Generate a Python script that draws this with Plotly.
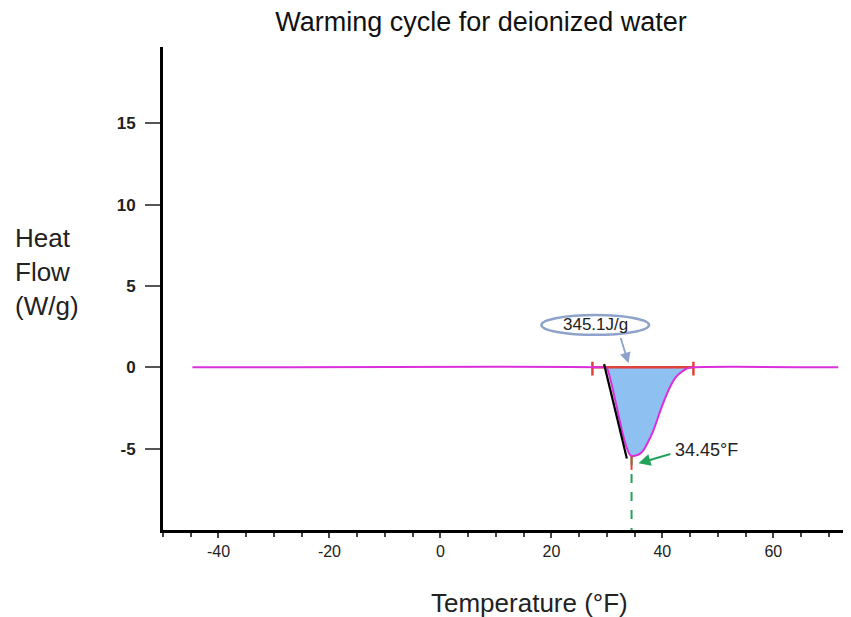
import plotly.graph_objects as go

# ---- data ----
temp = [-44.7, 29.5, 30.0, 31.5, 32.7, 33.6, 34.1, 34.45, 35.2, 36.0, 36.6, 37.4, 38.4,
        39.9, 41.4, 42.3, 43.2, 44.4, 45.3, 71.7]
heat_flow = [0.0, 0.0, -0.04, -2.0, -3.86, -4.96, -5.35, -5.45, -5.42, -5.3, -5.09, -4.6, -3.87,
             -2.42, -1.19, -0.66, -0.35, -0.07, 0.0, 0.0]

peak_temp = 34.45
peak_flow = -5.45
enthalpy_label = "345.1J/g"
peak_label = "34.45°F"

tangent_x = [29.5, 33.6]
tangent_y = [0.2, -5.6]

integ_x = [27.4, 45.6]
integ_y = [0.0, 0.0]

x_ticks = [-40, -20, 0, 20, 40, 60]
x_tick_labels = ["-40", "-20", "0", "20", "40", "60"]
y_ticks = [-5, 0, 5, 10, 15]
y_tick_labels = ["-5", "0", "5", "10", "15"]

FONT = "Liberation Sans, Arial, sans-serif"
MAGENTA = "#dc2fdc"
RED = "#e0413a"
GREEN = "#22a35a"
ELLIPSE = "#8ea3cc"

# page body has an 8px margin, so the figure is sized to fit inside the window
W, H = 843, 609

fig = go.Figure()

# filled peak area (between curve and the integration baseline)
px_fill = [t for t, h in zip(temp, heat_flow) if 30.0 <= t <= 45.3]
py_fill = [h for t, h in zip(temp, heat_flow) if 30.0 <= t <= 45.3]
fig.add_trace(go.Scatter(x=px_fill, y=py_fill, mode="lines", fill="toself",
                         fillcolor="#8ec0f2", line=dict(width=0), hoverinfo="skip"))

# integration baseline with end ticks
fig.add_trace(go.Scatter(x=integ_x, y=integ_y, mode="lines",
                         line=dict(color=RED, width=2.5)))
for xv in integ_x:
    fig.add_trace(go.Scatter(x=[xv, xv], y=[0.35, -0.5], mode="lines",
                             line=dict(color=RED, width=2.5)))

# green dashed drop line from the peak
fig.add_trace(go.Scatter(x=[peak_temp, peak_temp], y=[peak_flow, -10], mode="lines",
                         line=dict(color=GREEN, width=2, dash="dash")))

# main heat flow curve
fig.add_trace(go.Scatter(x=temp, y=heat_flow, mode="lines",
                         line=dict(color=MAGENTA, width=2, shape="spline", smoothing=0.6)))

# onset tangent
fig.add_trace(go.Scatter(x=tangent_x, y=tangent_y, mode="lines",
                         line=dict(color="black", width=2.2)))

# red peak marker
fig.add_trace(go.Scatter(x=[peak_temp, peak_temp], y=[peak_flow, peak_flow - 0.85], mode="lines",
                         line=dict(color=RED, width=2)))

# ellipse around enthalpy label
fig.add_shape(type="circle", xref="x", yref="y", x0=18.2, x1=37.6, y0=2.0, y1=3.22,
              line=dict(color=ELLIPSE, width=2.5), fillcolor="rgba(0,0,0,0)")
fig.add_annotation(x=28.0, y=2.62, text=enthalpy_label, showarrow=False,
                   font=dict(family=FONT, size=17, color="#222"))
fig.add_annotation(x=33.9, y=0.25, ax=32.4, ay=1.9, axref="x", ayref="y",
                   showarrow=True, arrowhead=2, arrowsize=1.2, arrowwidth=1.8,
                   arrowcolor=ELLIPSE, text="")

# peak temperature label with green arrow
fig.add_annotation(x=35.7, y=-5.9, ax=41.7, ay=-5.3, axref="x", ayref="y",
                   showarrow=True, arrowhead=2, arrowsize=1.2, arrowwidth=2,
                   arrowcolor=GREEN, text="")
fig.add_annotation(x=41.9, y=-5.05, text=peak_label, showarrow=False, xanchor="left",
                   font=dict(family=FONT, size=18, color="#222"))

# axis titles / y label
fig.add_annotation(xref="paper", yref="paper", x=0.5334, y=-0.151, text="Temperature (°F)",
                   showarrow=False, xanchor="center", yanchor="middle",
                   font=dict(family=FONT, size=26, color="#222"))
fig.add_annotation(xref="paper", yref="paper", x=-0.218, y=0.534,
                   text="Heat<br>Flow<br>(W/g)", showarrow=False, xanchor="left",
                   yanchor="middle", align="left",
                   font=dict(family=FONT, size=26, color="#222"))

fig.update_layout(
    width=W, height=H,
    margin=dict(l=155, r=0, t=39, b=87),
    paper_bgcolor="white", plot_bgcolor="white",
    showlegend=False,
    title=dict(text="Warming cycle for deionized water", xref="container", yref="container",
               x=473 / W, y=1 - 14 / H, xanchor="center", yanchor="middle",
               font=dict(family=FONT, size=27, color="#111")),
    xaxis=dict(range=[-50, 74], tickvals=x_ticks, ticktext=x_tick_labels,
               ticks="outside", ticklen=5, tickwidth=1.5,
               tickcolor="#444", showline=True, linecolor="black", linewidth=3,
               showgrid=False, zeroline=False,
               minor=dict(dtick=5, tick0=0, ticks="outside", ticklen=4, tickcolor="#444",
                          tickwidth=1.5, showgrid=False),
               tickfont=dict(family=FONT, size=16, color="#222")),
    yaxis=dict(range=[-10, 19.7], tickvals=y_ticks, ticktext=y_tick_labels,
               ticks="outside", ticklen=15, tickwidth=2,
               tickcolor="#555", showline=True, linecolor="black", linewidth=3,
               showgrid=False, zeroline=False, ticklabelstandoff=6,
               tickfont=dict(family=FONT, size=17, color="#222", weight="bold")),
)

fig.write_html("out.html")
